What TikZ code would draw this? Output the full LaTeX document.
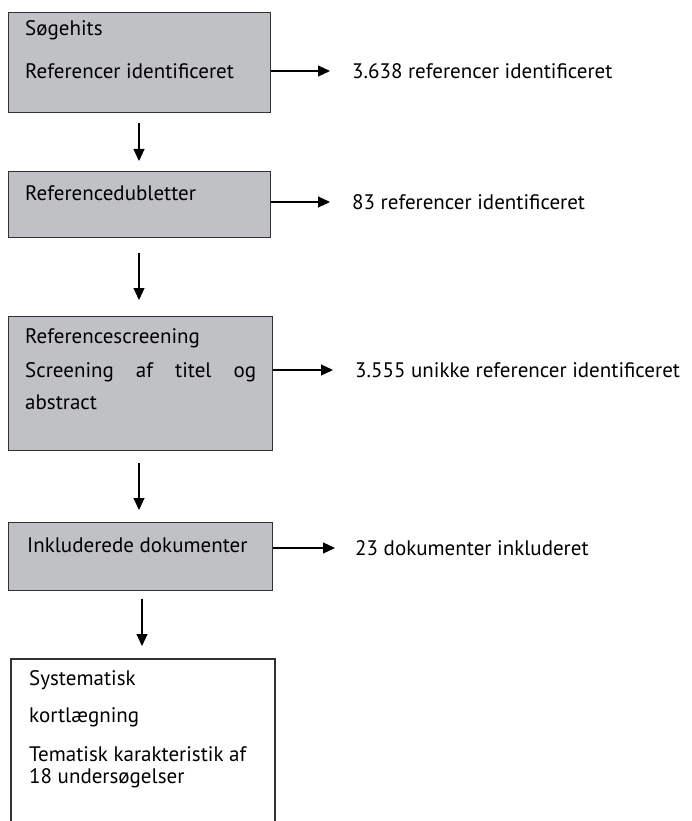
\documentclass[tikz,border=0pt]{standalone}
\usepackage{fontspec}
\setmainfont{PT Sans}
\usepackage{tikz}
\usetikzlibrary{arrows.meta, positioning}

\definecolor{boxgray}{RGB}{192,193,197}
\definecolor{edgegray}{RGB}{50,50,50}

\begin{document}
\begin{tikzpicture}[x=1pt, y=-1pt,
    every node/.style={font=\fontsize{21}{24}\selectfont, inner sep=0pt},
    stepbox/.style={draw=edgegray, line width=1.4pt, fill=boxgray, anchor=north west},
    txt/.style={anchor=west},
    flow/.style={-{Triangle[length=12pt,width=11pt]}, line width=1.1pt, black}]
    \useasboundingbox (0,0) rectangle (691,821);

    % boxes
    \node[stepbox, minimum width=262pt, minimum height=100pt] (hits) at (8,12) {};
    \node[stepbox, minimum width=262pt, minimum height=66pt] (dupl) at (8,171) {};
    \node[stepbox, minimum width=264pt, minimum height=134pt] (scrn) at (8,316) {};
    \node[stepbox, minimum width=264pt, minimum height=68pt] (incl) at (8,522) {};
    \node[anchor=north west, minimum width=264pt, minimum height=162pt] (kort) at (11,659) {};
    \draw[line width=2pt, edgegray] (kort.south west) -- (kort.north west)
        -- (kort.north east) -- (kort.south east);

    % box texts
    \node[txt] (hits1) at (25,30) {Søgehits};
    \node[txt] (hits2) at (25,71) {Referencer identificeret};
    \node[txt] (dupl1) at (25,193) {Referencedubletter};
    \node[txt] (scrn1) at (25,338) {Referencescreening};
    \node[txt] (scrn2) at (25,372) {\hbox to 231pt{Screening\hfill af\hfill titel\hfill og}};
    \node[txt] (scrn3) at (25,402) {abstract};
    \node[txt] (incl1) at (27,545) {Inkluderede dokumenter};
    \node[txt] (kort1) at (29,680) {Systematisk};
    \node[txt] (kort2) at (29,717) {kortlægning};
    \node[txt] (kort3) at (29,754) {Tematisk karakteristik af};
    \node[txt] (kort4) at (29,778) {18 undersøgelser};

    % results
    \node[txt] (res1) at (352,71) {3.638 referencer identificeret};
    \node[txt] (res2) at (352,202) {83 referencer identificeret};
    \node[txt] (res3) at (355,370) {3.555 unikke referencer identificeret};
    \node[txt] (res4) at (355,548) {23 dokumenter inkluderet};

    % side arrows
    \draw[flow] (hits.east |- res1.west) -- ([xshift=-22pt]res1.west);
    \draw[flow] (dupl.east |- res2.west) -- ([xshift=-22pt]res2.west);
    \draw[flow] (scrn.east |- res3.west) -- ([xshift=-22pt]res3.west);
    \draw[flow] (incl.east |- res4.west) -- ([xshift=-20pt]res4.west);

    % down arrows
    \draw[flow, shorten <=10pt, shorten >=10pt] (139,0 |- hits.south) -- (139,0 |- dupl.north);
    \draw[flow, shorten <=15pt, shorten >=16pt] (139,0 |- dupl.south) -- (139,0 |- scrn.north);
    \draw[flow, shorten <=12pt, shorten >=12pt] (139,0 |- scrn.south) -- (139,0 |- incl.north);
    \draw[flow, shorten <=8pt, shorten >=13pt] (142,0 |- incl.south) -- (142,0 |- kort.north);
\end{tikzpicture}
\end{document}
